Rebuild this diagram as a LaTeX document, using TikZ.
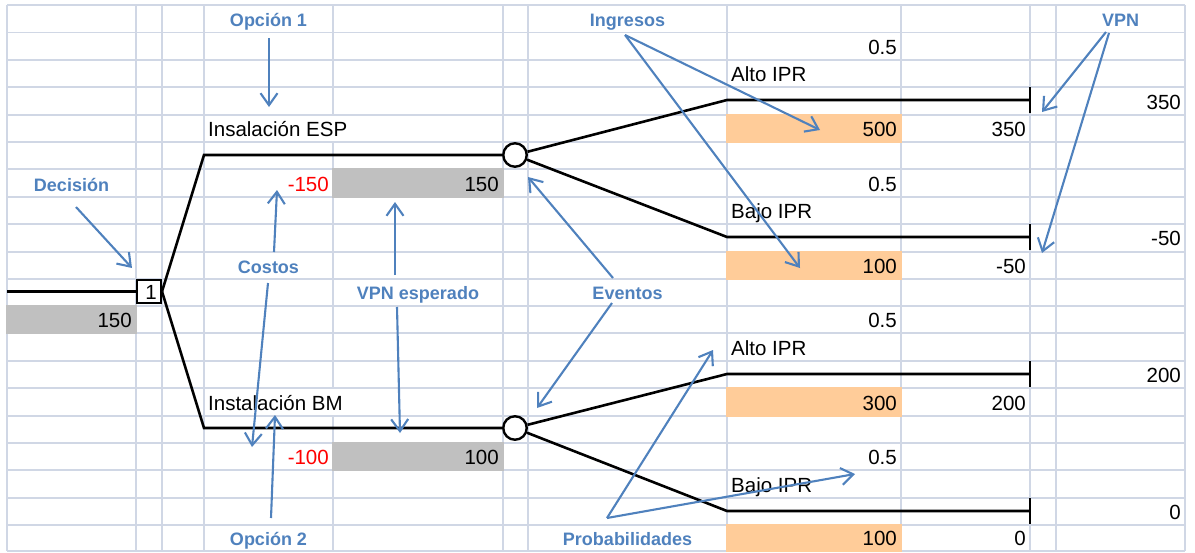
\documentclass[tikz,border=0pt]{standalone}
\usepackage{fontspec}
\setmainfont{Liberation Sans}
\usetikzlibrary{arrows.meta}
\definecolor{gridc}{HTML}{D0D7E5}
\definecolor{annot}{HTML}{4F81BD}
\definecolor{tancell}{HTML}{FFCC99}
\definecolor{greycell}{HTML}{C0C0C0}
\definecolor{negred}{HTML}{FF0000}

\begin{document}
\begin{tikzpicture}[x=1pt,y=-1pt,
  gridline/.style={draw=gridc, line width=1.8pt},
  branch/.style={draw=black, line width=2.6pt},
  txt/.style={inner sep=0pt, font=\fontsize{20.5}{24}\selectfont},
  lbl/.style={inner sep=0pt, anchor=base, text=annot, font=\fontsize{18}{21}\selectfont\bfseries},
  callout/.style={draw=annot, line width=2.1pt,
    -{Straight Barb[length=12pt,width=17pt,line width=2.1pt]}},
]
\useasboundingbox (0,0) rectangle (1195,552);

% spreadsheet gridlines
\foreach \y in {5,32.5,60,87.3,115,142,169.3,197,224,251.7,279,305.8,333.3,361,388.3,416,443,470.3,498,525,551}
  \draw[gridline] (7,\y) -- (1185,\y);
\foreach \x in {7,136,162,204,333,503,528,727,901,1030,1056,1185}
  \draw[gridline] (\x,5) -- (\x,551);

% filled cells
\foreach \ya/\yb in {115/142,251.7/279,388.3/416,525/551}
  \fill[tancell] (726,\ya-0.9) rectangle (902,\yb+0.9);
\fill[greycell] (332,168.4) rectangle (504,197.9);
\fill[greycell] (332,442.1) rectangle (504,471.2);
\fill[greycell] (6,304.9) rectangle (137,334.2);

% overflowing labels hide the cell border
\fill[white] (331.9,116) rectangle (334.1,141);
\fill[white] (331.9,389.3) rectangle (334.1,415);

% decision tree
\coordinate (root) at (7,291.5);
\node[draw, line width=2.4pt, minimum width=23.6pt, minimum height=22.6pt, inner sep=0pt, fill=white] (dec) at (149,291.5) {};
\node[txt, anchor=base east] (decnum) at (157,299) {1};
\coordinate (k1) at (204,155);
\coordinate (k2) at (204,428);
\node[circle, draw, line width=2.4pt, minimum size=23.5pt, inner sep=0pt, fill=white] (ch1) at (515,155) {};
\node[circle, draw, line width=2.4pt, minimum size=23.5pt, inner sep=0pt, fill=white] (ch2) at (515,428) {};
\coordinate (a1) at (727,100);  \coordinate (t1) at (1030,100);
\coordinate (b1) at (727,237);  \coordinate (u1) at (1030,237);
\coordinate (a2) at (727,374);  \coordinate (t2) at (1030,374);
\coordinate (b2) at (727,511);  \coordinate (u2) at (1030,511);

\draw[branch] (root) -- (dec.west);
\draw[branch] (dec.east) -- (k1) -- (ch1);
\draw[branch] (dec.east) -- (k2) -- (ch2);
\draw[branch] (ch1) -- (a1) -- (t1);
\draw[branch] (ch1) -- (b1) -- (u1);
\draw[branch] (ch2) -- (a2) -- (t2);
\draw[branch] (ch2) -- (b2) -- (u2);
\foreach \t in {t1,u1,t2,u2}
  \draw[branch] ([yshift=13pt]\t) -- ([yshift=-13pt]\t);

% cell texts
\node[txt, anchor=base west] (esp) at (208,136) {Insalación ESP};
\node[txt, anchor=base west] (bm) at (208,410) {Instalación BM};
\node[txt, anchor=base east, text=negred] (c1) at (329,191) {-150};
\node[txt, anchor=base east, text=negred] (c2) at (329,464.3) {-100};
\node[txt, anchor=base east] (ev1) at (499,191) {150};
\node[txt, anchor=base east] (ev2) at (499,464.3) {100};
\node[txt, anchor=base east] (ev0) at (132,327.3) {150};

\node[txt, anchor=base east] (p1) at (897,54) {0.5};
\node[txt, anchor=base east] (p2) at (897,191) {0.5};
\node[txt, anchor=base east] (p3) at (897,327.3) {0.5};
\node[txt, anchor=base east] (p4) at (897,464.3) {0.5};

\node[txt, anchor=base west] (e1) at (731,81.3) {Alto IPR};
\node[txt, anchor=base west] (e2) at (731,218) {Bajo IPR};
\node[txt, anchor=base west] (e3) at (731,355) {Alto IPR};
\node[txt, anchor=base west] (e4) at (731,492) {Bajo IPR};

\node[txt, anchor=base east] (i1) at (897,136) {500};
\node[txt, anchor=base east] (i2) at (897,273) {100};
\node[txt, anchor=base east] (i3) at (897,410) {300};
\node[txt, anchor=base east] (i4) at (897,545) {100};

\node[txt, anchor=base east] (n1) at (1026,136) {350};
\node[txt, anchor=base east] (n2) at (1026,273) {-50};
\node[txt, anchor=base east] (n3) at (1026,410) {200};
\node[txt, anchor=base east] (n4) at (1026,545) {0};

\node[txt, anchor=base east] (v1) at (1181,109) {350};
\node[txt, anchor=base east] (v2) at (1181,245.7) {-50};
\node[txt, anchor=base east] (v3) at (1181,382.3) {200};
\node[txt, anchor=base east] (v4) at (1181,519) {0};

% annotation labels
\node[lbl] (lopc1) at (268.5,26) {Opción 1};
\node[lbl] (ling) at (627.5,26) {Ingresos};
\node[lbl] (lvpn) at (1120.5,26) {VPN};
\node[lbl] (ldec) at (71.5,191) {Decisión};
\node[lbl] (lcost) at (268.5,273) {Costos};
\node[lbl] (lvpne) at (418,299.8) {VPN esperado};
\node[lbl] (levt) at (627.5,299.8) {Eventos};
\node[lbl] (lopc2) at (268.5,545) {Opción 2};
\node[lbl] (lprob) at (627.5,545) {Probabilidades};

% annotation arrow ends
\coordinate (opc1-s) at (269,38);    \coordinate (opc1-e) at (269,107);
\coordinate (dec-s) at (76,207);     \coordinate (dec-e) at (132,268);
\coordinate (cost-s1) at (274,252);  \coordinate (cost-e1) at (277,190);
\coordinate (cost-s2) at (268,283);  \coordinate (cost-e2) at (252,447);
\coordinate (opc2-s) at (271,518);   \coordinate (opc2-e) at (275,415);
\coordinate (vpne-s1) at (395,275);  \coordinate (vpne-e1) at (395,202);
\coordinate (vpne-s2) at (397,307);  \coordinate (vpne-e2) at (400,433);
\coordinate (evt-s1) at (613,278);   \coordinate (evt-e1) at (528,177);
\coordinate (evt-s2) at (612,303);   \coordinate (evt-e2) at (537,408);
\coordinate (ing-s) at (625,35);
\coordinate (ing-e1) at (820,130);   \coordinate (ing-e2) at (800,268);
\coordinate (vpn-s1) at (1106,32);   \coordinate (vpn-e1) at (1042,112);
\coordinate (vpn-s2) at (1109,33);   \coordinate (vpn-e2) at (1042,253);
\coordinate (prob-s) at (607,518);
\coordinate (prob-e1) at (713,350);  \coordinate (prob-e2) at (855,474);

\draw[callout] (opc1-s) -- (opc1-e);
\draw[callout] (dec-s) -- (dec-e);
\draw[callout] (cost-s1) -- (cost-e1);
\draw[callout] (cost-s2) -- (cost-e2);
\draw[callout] (opc2-s) -- (opc2-e);
\draw[callout] (vpne-s1) -- (vpne-e1);
\draw[callout] (vpne-s2) -- (vpne-e2);
\draw[callout] (evt-s1) -- (evt-e1);
\draw[callout] (evt-s2) -- (evt-e2);
\draw[callout] (ing-s) -- (ing-e1);
\draw[callout] (ing-s) -- (ing-e2);
\draw[callout] (vpn-s1) -- (vpn-e1);
\draw[callout] (vpn-s2) -- (vpn-e2);
\draw[callout] (prob-s) -- (prob-e1);
\draw[callout] (prob-s) -- (prob-e2);
\end{tikzpicture}
\end{document}
